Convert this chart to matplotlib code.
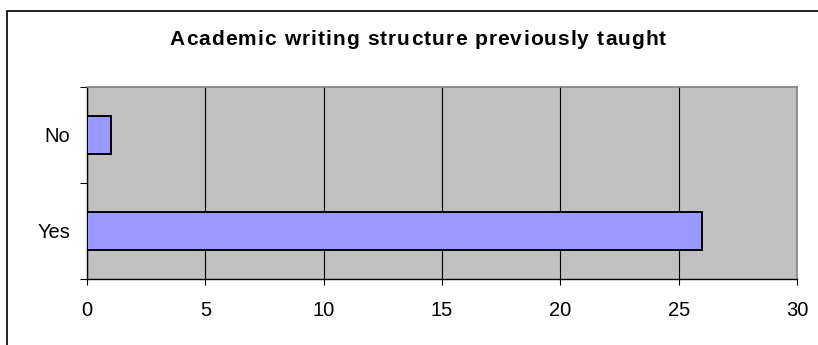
import matplotlib.pyplot as plt
from matplotlib.patches import Rectangle
from matplotlib.ticker import FixedLocator
from matplotlib.font_manager import FontProperties, findfont, get_font

plt.rcParams['font.family'] = ['Liberation Sans', 'DejaVu Sans']

answers = ['Yes', 'No']
counts = [26, 1]
x_ticks = [0, 5, 10, 15, 20, 25, 30]
title = 'Academic writing structure previously taught'

W, H = 818, 345
DPI = 100
fig = plt.figure(figsize=(W / DPI, H / DPI), dpi=DPI)

# chart frame (only the top and left edges fall inside the image)
fig.patches.append(Rectangle((7 / W, -0.1), 1.2, 1.1 - 11 / H,
                             transform=fig.transFigure, fill=False,
                             edgecolor='black', linewidth=1.2))

ax = fig.add_axes([87 / W, 1 - 279 / H, (797 - 87) / W, (279 - 87) / H])
ax.set_facecolor('#C0C0C0')

pos = [i + 0.5 for i in range(len(answers))]
ax.barh(pos, counts, height=0.4, color='#9999FF', edgecolor='black',
        linewidth=1.4, zorder=3)

ax.set_xlim(0, 30)
ax.set_ylim(0, len(answers))
ax.set_xticks(x_ticks)
ax.set_xticklabels([str(t) for t in x_ticks])
ax.xaxis.grid(True, color='black', linewidth=0.8, zorder=1)
ax.set_axisbelow(True)

ax.yaxis.set_major_locator(FixedLocator([0, 1, 2]))
ax.set_yticklabels([])
ax.yaxis.set_minor_locator(FixedLocator(pos))
ax.set_yticklabels(answers, minor=True)
ax.tick_params(axis='y', which='minor', length=0, pad=12, labelsize=14.5)
ax.tick_params(axis='y', which='major', length=5, width=0.8)
ax.tick_params(axis='x', length=4.5, width=0.8, pad=11, labelsize=14.5)

for side in ['top', 'right']:
    ax.spines[side].set_color('#808080')
    ax.spines[side].set_linewidth(1.2)
for side in ['left', 'bottom']:
    ax.spines[side].set_color('black')
    ax.spines[side].set_linewidth(1.0)


def spaced_text(s, cx, baseline, size, track):
    # lay out a bold string one glyph at a time with extra letter spacing
    prop = FontProperties(family='Liberation Sans', weight='bold', size=size)
    font = get_font(findfont(prop))
    font.set_size(size, DPI)
    adv = []
    for ch in s:
        g = font.load_char(ord(ch))
        adv.append(g.linearHoriAdvance / 65536)
    total = sum(adv) + track * (len(s) - 1)
    x = cx - total / 2
    for ch, a in zip(s, adv):
        fig.text(x / W, 1 - baseline / H, ch, ha='left', va='baseline',
                 fontproperties=prop)
        x += a + track


spaced_text(title, 418, 45, 15, 1.1)

fig.savefig('out.png', dpi=DPI)
